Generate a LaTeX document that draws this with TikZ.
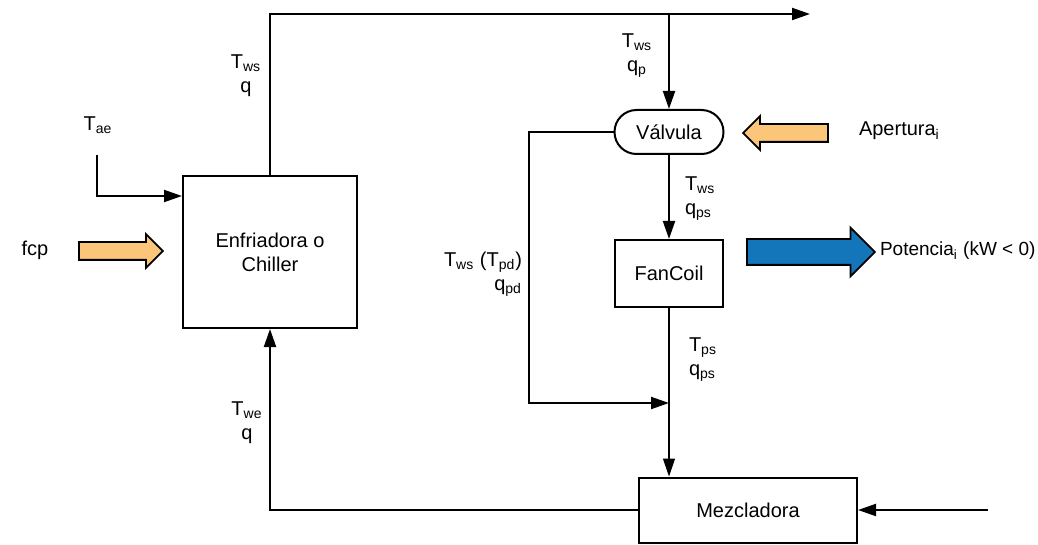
\documentclass[tikz,border=0pt]{standalone}
\usepackage{fontspec}
\setmainfont{Liberation Sans}
\usetikzlibrary{arrows.meta,positioning,shapes.arrows,shapes.misc}
\definecolor{naranja}{RGB}{252,198,122}
\definecolor{azul}{RGB}{20,118,186}
\tikzset{
  block/.style={draw,rectangle,line width=1pt,align=center,inner sep=0pt},
  valve/.style={draw,rounded rectangle,line width=1pt,minimum width=54.5pt,minimum height=22pt,inner sep=0pt},
  fatarrow/.style={single arrow,draw,line width=0.9pt,inner xsep=0pt},
  lbl/.style={align=center,inner sep=0pt}
}
\begin{document}
\begin{tikzpicture}[x=0.5pt,y=-0.5pt,line width=1pt,>={Triangle[length=9pt,width=6pt]}]
  \useasboundingbox (0,0) rectangle (1038,545);
  % bloques
  \node[block,minimum width=87pt,minimum height=76pt] (chiller) at (270,252) {Enfriadora o\\Chiller};
  \node[valve] (valvula) at (669,132) {Válvula};
  \node[block,minimum width=54pt,minimum height=33.5pt] (fancoil) at (669,273.5) {FanCoil};
  \node[block,minimum width=109pt,minimum height=32.5pt] (mezcla) at (748,510) {Mezcladora};
  % flechas gruesas
  \node[fatarrow,fill=naranja,minimum height=42pt,inner ysep=4pt,single arrow head extend=4pt] (fcparrow) at (116.5,251) {};
  \node[fatarrow,fill=naranja,minimum height=42.5pt,inner ysep=4pt,single arrow head extend=4pt,shape border rotate=180] (aparrow) at (790,133) {};
  \node[fatarrow,fill=azul,minimum height=64pt,inner ysep=6pt,single arrow head extend=5.8pt,anchor=tail] (potarrow) at (746,252) {};
  % textos
  \node[lbl] (fcp) at (35,250) {fcp};
  \node[lbl] (tae) at (98,125) {T\textsubscript{ae}};
  \node[lbl] (tws1) at (246,76) {T\textsubscript{ws}\\q};
  \node[lbl] (twe) at (247,423) {T\textsubscript{we}\\q};
  \node[lbl] (tws2) at (637,56) {T\textsubscript{ws}\\q\textsubscript{p}};
  \node[lbl,anchor=west] (apert) at (858,131) {Apertura\textsubscript{i}};
  \node[lbl,align=left,anchor=west] (tws3) at (684,199) {T\textsubscript{ws}\\q\textsubscript{ps}};
  \node[lbl,align=right,anchor=east] (tws4) at (523,274) {T\textsubscript{ws} (T\textsubscript{pd})\\q\textsubscript{pd}};
  \node[lbl,anchor=west,font=\fontsize{9.5}{11}\selectfont] (pot) at (879,251) {Potencia\textsubscript{i} (kW < 0)};
  \node[lbl,align=left,anchor=west] (tps) at (688,360) {T\textsubscript{ps}\\q\textsubscript{ps}};
  % puntos
  \coordinate (salida) at (810,14);
  \coordinate (rama) at (669,14);
  \coordinate (taeini) at (97,155);
  \coordinate (taecodo) at (97,196);
  \coordinate (codo) at (529,403);
  \coordinate (union) at (669,403);
  \coordinate (entrada) at (988,510);
  % conexiones
  \draw[->] (chiller.north) |- (salida);
  \draw[->] (rama) -- (valvula.north);
  \draw[->] (taeini) -- (taecodo) -- (taecodo -| chiller.west);
  \draw[->] (valvula.south) -- (fancoil.north);
  \draw[->] (valvula.west) -| (codo) -- (union);
  \draw[->,line width=0.6pt] (fancoil.south) -- (fancoil.south |- mezcla.north);
  \draw[->] (entrada) -- (mezcla.east);
  \draw[->] (mezcla.west) -| (chiller.south);
\end{tikzpicture}
\end{document}
